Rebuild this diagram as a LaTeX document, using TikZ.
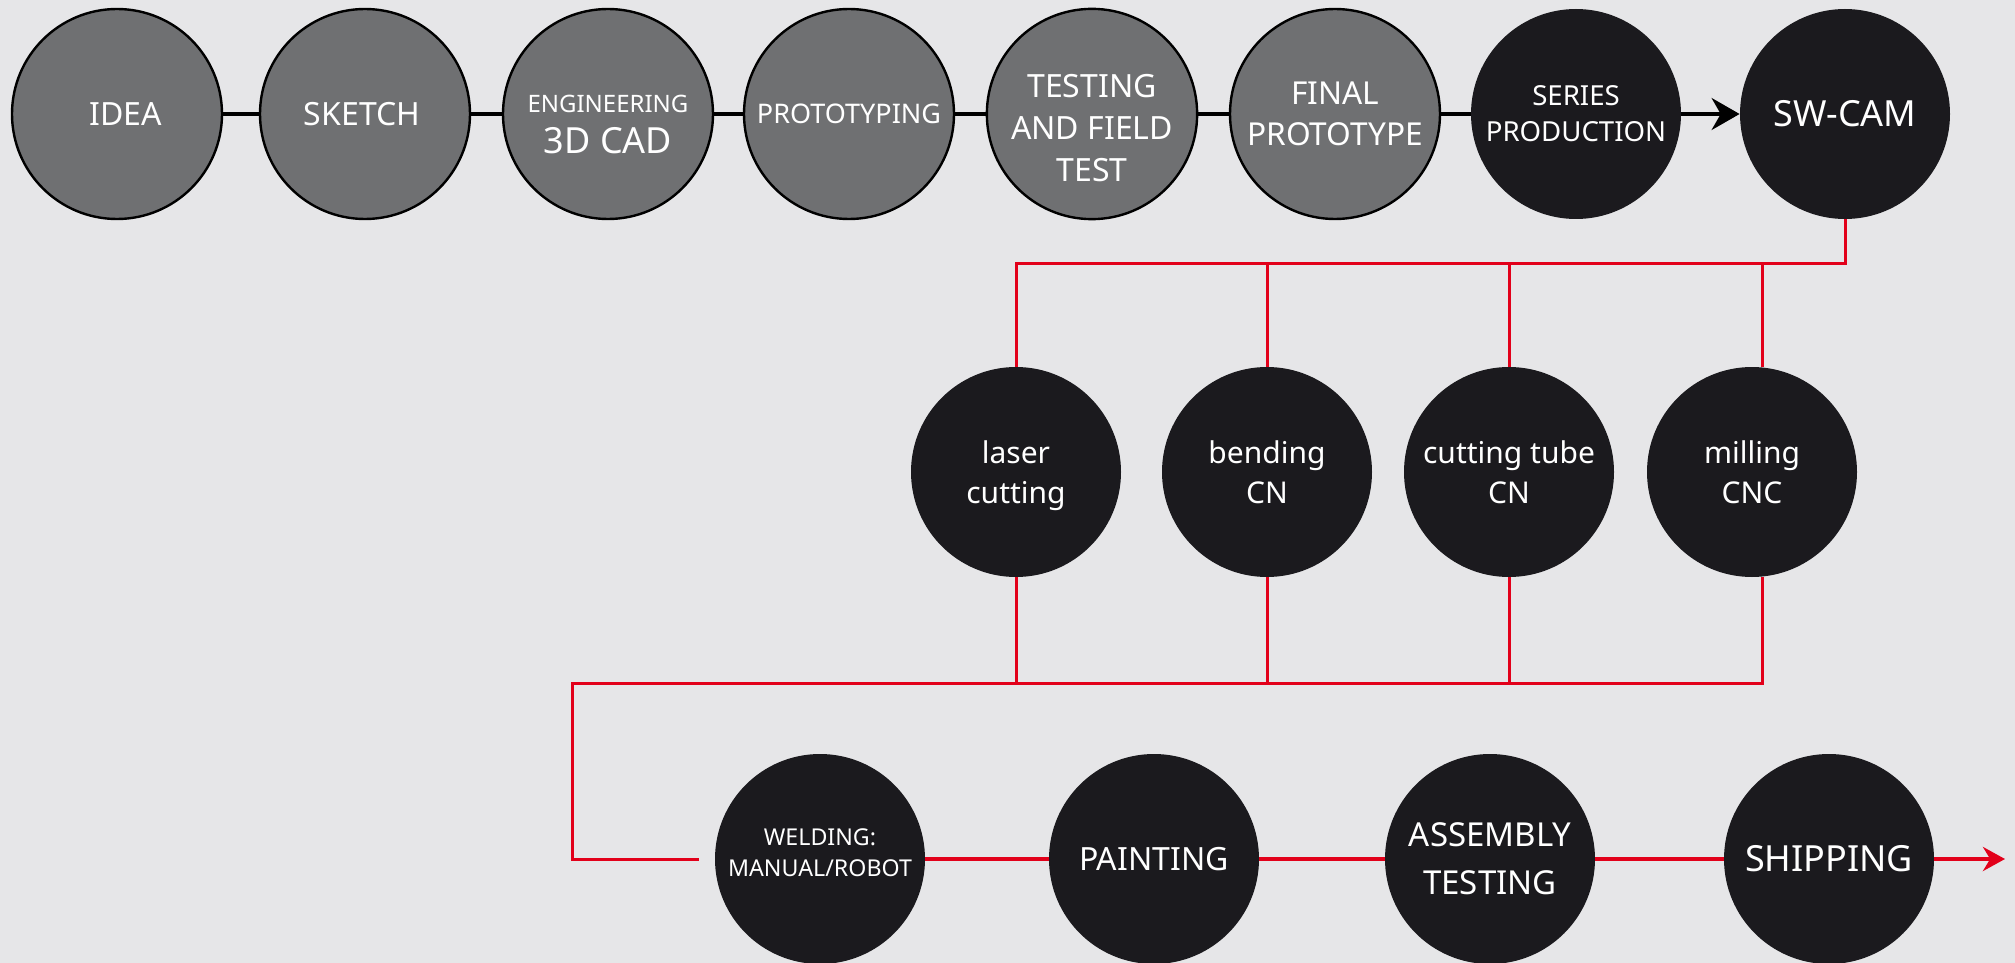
\documentclass[tikz,border=0pt]{standalone}
\usepackage{fontspec}
\setmainfont{Noto Sans}
\usetikzlibrary{arrows.meta}

\definecolor{stepgrey}{RGB}{111,112,114}
\definecolor{stepdark}{RGB}{27,26,30}
\definecolor{flowred}{RGB}{226,0,26}
\definecolor{backgrey}{RGB}{230,230,232}

\newcommand{\fs}[2]{\fontsize{#1}{#2}\selectfont}
\newcommand{\padtop}[1]{\rule{0pt}{#1}}
\newcommand{\padbot}[1]{\rule[-#1]{0pt}{#1}}

\tikzset{
  phase/.style={circle, minimum size=105pt, inner sep=0pt, align=center, text=white},
  greyphase/.style={phase, fill=stepgrey, draw=black, line width=1.2pt},
  darkphase/.style={phase, fill=stepdark},
  blackline/.style={black, line width=1.6pt},
  redline/.style={flowred, line width=1.5pt},
}

\begin{document}
\begin{tikzpicture}[x=0.5pt,y=-0.5pt]
      \fill[backgrey] (0,0) rectangle (2015,963);
      \useasboundingbox (0,0) rectangle (2015,963);

      % development steps
      \path (117,114) node[greyphase,font=\fs{16}{20}] (idea) {\hspace{9pt}IDEA};
      \path (365,114) node[greyphase,font=\fs{16}{20}] (sketch) {SKETCH\hspace{3pt}};
      \path (608,114) node[greyphase,font=\fs{12}{20.5}] (engineering) {\padtop{19pt}ENGINEERING\\\fs{18}{20.5}3D CAD};
      \path (849,114) node[greyphase,font=\fs{13.5}{16}] (prototyping) {PROTOTYPING};
      \path (1092,114) node[greyphase,font=\fs{16}{21}] (testing) {\padtop{25.5pt}TESTING\\AND FIELD\\TEST};
      \path (1335,114) node[greyphase,font=\fs{15.8}{20.5}] (final) {FINAL\\PROTOTYPE};
      \path (1576,114) node[darkphase,font=\fs{13.8}{18}] (series) {SERIES\\PRODUCTION};
      \path (1845,114) node[darkphase,font=\fs{18}{20}] (swcam) {SW-CAM};

      \foreach \a/\b in {idea/sketch, sketch/engineering, engineering/prototyping,
                         prototyping/testing, testing/final, final/series} {
        \draw[blackline] (\a) -- (\b);
      }
      \draw[blackline, -{Stealth[length=14pt,width=16pt]}] (series) -- (swcam);

      % machining
      \path (1016,472) node[darkphase,font=\fs{15}{20}] (laser) {\padtop{15pt}laser\\cutting};
      \path (1267,472) node[darkphase,font=\fs{15}{20}] (bending) {bending\\CN};
      \path (1509,472) node[darkphase,font=\fs{15}{20}] (cuttube) {cutting tube\\CN};
      \path (1752,472) node[darkphase,font=\fs{15}{20}] (milling) {milling\\CNC};

      \coordinate (topbus) at (0,263);
      \coordinate (lowbus) at (572,683);
      \coordinate (millin) at ([xshift=5pt]milling.north);
      \coordinate (millout) at ([xshift=5pt]milling.south);

      \draw[redline] (swcam.south) |- (laser.north |- topbus) -- (laser.north);
      \foreach \n in {bending, cuttube} {
        \draw[redline] (\n.north) -- (\n.north |- topbus);
      }
      \draw[redline] (millin) -- (millin |- topbus);

      % finishing
      \path (820,859) node[darkphase,font=\fs{11.6}{15.5}] (welding) {WELDING:\\MANUAL/ROBOT\padbot{6.5pt}};
      \path (1154,859) node[darkphase,font=\fs{16}{20}] (painting) {PAINTING};
      \path (1490,859) node[darkphase,font=\fs{16.5}{24}] (assembly) {ASSEMBLY\\TESTING};
      \path (1829,859) node[darkphase,font=\fs{18}{20}] (shipping) {SHIPPING};

      \coordinate (feed) at ([xshift=-8pt]welding.west);
      \coordinate (endtip) at (2005,859);

      \draw[redline] (millout) |- (lowbus) |- (feed);
      \foreach \n in {laser, bending, cuttube} {
        \draw[redline] (\n.south) -- (\n.south |- lowbus);
      }
      \foreach \a/\b in {welding/painting, painting/assembly, assembly/shipping} {
        \draw[redline, line width=2pt] (\a) -- (\b);
      }
      \draw[redline, line width=2pt, -{Stealth[length=11pt,width=12pt]}] (shipping) -- (endtip);
    \end{tikzpicture}
\end{document}
